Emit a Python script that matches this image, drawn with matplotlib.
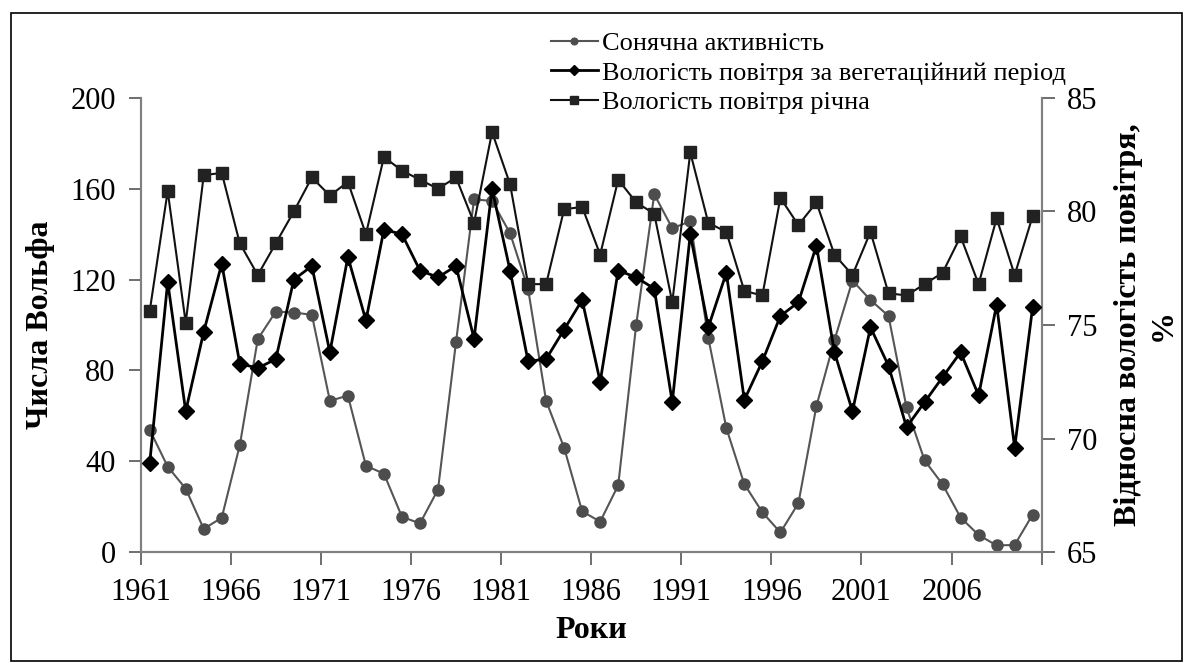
import numpy as np
import matplotlib.pyplot as plt
from matplotlib.patches import Rectangle

plt.rcParams['font.family'] = ['Liberation Serif', 'DejaVu Serif']

years = list(range(1961, 2011))

# sunspot (Wolf) numbers
wolf = [53.9, 37.6, 27.9, 10.2, 15.1, 47.0, 93.8, 105.9, 105.5, 104.5,
        66.6, 68.9, 38.0, 34.5, 15.5, 12.6, 27.5, 92.5, 155.4, 154.6,
        140.4, 115.9, 66.6, 45.9, 17.9, 13.4, 29.4, 100.2, 157.6, 142.6,
        145.7, 94.3, 54.6, 29.9, 17.5, 8.6, 21.5, 64.3, 93.3, 119.6,
        111.0, 104.0, 63.7, 40.4, 29.8, 15.2, 7.5, 2.9, 3.1, 16.5]

# humidity during vegetation period, %
hum_veg = [68.9, 76.9, 71.2, 74.7, 77.7, 73.3, 73.1, 73.5, 77.0, 77.6,
           73.8, 78.0, 75.2, 79.2, 79.0, 77.4, 77.1, 77.6, 74.4, 81.0,
           77.4, 73.4, 73.5, 74.8, 76.1, 72.5, 77.4, 77.1, 76.6, 71.6,
           79.0, 74.9, 77.3, 71.7, 73.4, 75.4, 76.0, 78.5, 73.8, 71.2,
           74.9, 73.2, 70.5, 71.6, 72.7, 73.8, 71.9, 75.9, 69.6, 75.8]

# annual humidity, %
hum_year = [75.6, 80.9, 75.1, 81.6, 81.7, 78.6, 77.2, 78.6, 80.0, 81.5,
            80.7, 81.3, 79.0, 82.4, 81.8, 81.4, 81.0, 81.5, 79.5, 83.5,
            81.2, 76.8, 76.8, 80.1, 80.2, 78.1, 81.4, 80.4, 79.9, 76.0,
            82.6, 79.5, 79.1, 76.5, 76.3, 80.6, 79.4, 80.4, 78.1, 77.2,
            79.1, 76.4, 76.3, 76.8, 77.3, 78.9, 76.8, 79.7, 77.2, 79.8]

labels = ['Сонячна активність',
          'Вологість повітря за вегетаційний період',
          'Вологість повітря річна']

fig = plt.figure(figsize=(11.84, 6.63), dpi=100)
ax = fig.add_axes([0.1188, 0.1674, 0.761, 0.6848])
ax2 = ax.twinx()

l1, = ax.plot(years, wolf, color='#555555', lw=1.5, marker='o', ms=8,
              mfc='#4d4d4d', mec='#4d4d4d', zorder=3)
l2, = ax2.plot(years, hum_veg, color='black', lw=2, marker='D', ms=8.5,
               mfc='black', mec='black', zorder=4)
l3, = ax2.plot(years, hum_year, color='#111111', lw=1.5, marker='s', ms=8.5,
               mfc='#222222', mec='#222222', zorder=4)

ax.set_xlim(1960.5, 2010.5)
ax.set_ylim(0, 200)
ax2.set_ylim(65, 85)
ax.set_yticks(range(0, 201, 40))
ax2.set_yticks(range(65, 86, 5))
xt = [1960.5 + 5 * k for k in range(11)]
ax.set_xticks(xt)
ax.set_xticklabels([str(1961 + 5 * k) for k in range(10)] + [''])

for a in (ax, ax2):
    a.spines['top'].set_visible(False)
    for s in ('left', 'right', 'bottom'):
        a.spines[s].set_color('#808080')
        a.spines[s].set_linewidth(1.5)
ax.tick_params(axis='both', labelsize=22, length=9, width=1.2, color='#555555', direction='out')
ax.tick_params(axis='x', pad=10)
ax.tick_params(axis='y', pad=9)
ax2.tick_params(axis='y', labelsize=22, length=9, width=1.2, color='#555555', direction='out', pad=9)

ax.set_ylabel('Числа Вольфа', fontsize=23, fontweight='bold', labelpad=11)
ax.set_xlabel('Роки', fontsize=23, fontweight='bold', labelpad=6)
ax2.set_ylabel('Відносна вологість повітря,\n%', fontsize=23, fontweight='bold',
               rotation=90, labelpad=12, linespacing=1.25)

fig.legend([l1, l2, l3], labels, loc='upper left', bbox_to_anchor=(0.454, 0.972),
           frameon=False, prop={'family': 'Liberation Serif', 'size': 19},
           handlelength=1.8, handletextpad=0.15,
           labelspacing=0.22, borderpad=0, markerscale=0.6)

fig.patches.append(Rectangle((0.0093, 0.003), 0.989, 0.978, transform=fig.transFigure,
                             fill=False, edgecolor='black', lw=1.2))

fig.savefig('out.png', dpi=100)
